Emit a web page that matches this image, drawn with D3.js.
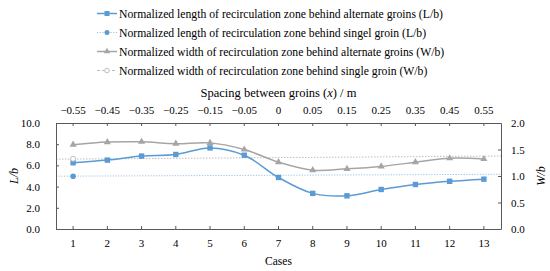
<!DOCTYPE html>
<html><head><meta charset="utf-8">
<script src="https://cdn.jsdelivr.net/npm/d3@7"></script>
<style>body{margin:0;background:#fff}svg{display:block}text{font-family:"Liberation Serif","Times New Roman",serif;fill:#000}</style>
</head><body><svg id="c" width="550" height="271"></svg>
<script>
const cases = ["1","2","3","4","5","6","7","8","9","10","11","12","13"];
const spacing = ["\u22120.55","\u22120.45","\u22120.35","\u22120.25","\u22120.15","\u22120.05","0","0.05","0.15","0.25","0.35","0.45","0.55"];
const lenAlternate = [6.25,6.5,6.88,7.03,7.65,6.96,4.86,3.36,3.13,3.73,4.2,4.5,4.7];
const widAlternate = [1.59,1.64,1.645,1.61,1.625,1.5,1.26,1.11,1.135,1.18,1.26,1.335,1.32];
const lenSingle = 4.97;           // marker at case 1
const lenSingleRef = [4.98,5.16]; // reference line, left edge -> right edge
const widSingle = 1.325;
const widSingleRef = [1.318,1.376];
const leftTicks = [0,2,4,6,8,10];
const rightTicks = [0,0.5,1,1.5,2];
const legendLabels = [
 "Normalized length of recirculation zone behind alternate groins (L/b)",
 "Normalized length of recirculation zone behind singel groin (L/b)",
 "Normalized width of recirculation zone behind alternate groins (W/b)",
 "Normalized width of recirculation zone behind single groin (W/b)"];

const FF = '"Liberation Serif","Times New Roman",serif';
const svg = d3.select("#c");
const m = {l:56, r:501, t:123, b:229};
const x = d3.scaleBand().domain(cases).range([m.l, m.r]);
const xc = d => x(d) + x.bandwidth()/2;
const yL = d3.scaleLinear().domain([0,10]).range([m.b, m.t]);
const yR = d3.scaleLinear().domain([0,2]).range([m.b, m.t]);
const blue = "#5B9BD5", gray = "#A5A5A5", lblue = "#9DC3E6", axc = "#595959";

// reference lines (single groin)
svg.append("line").attr("x1",m.l).attr("x2",m.r).attr("y1",yL(lenSingleRef[0])).attr("y2",yL(lenSingleRef[1]))
  .attr("stroke",lblue).attr("stroke-width",1).attr("stroke-dasharray","1.2,1.5");
svg.append("line").attr("x1",m.l).attr("x2",m.r).attr("y1",yR(widSingleRef[0])).attr("y2",yR(widSingleRef[1]))
  .attr("stroke","#BFBFBF").attr("stroke-width",1).attr("stroke-dasharray","1.5,1.5");

const curve = d3.curveCatmullRom.alpha(0.5);
// width alternate
svg.append("path").datum(widAlternate).attr("fill","none").attr("stroke",gray).attr("stroke-width",1.5)
  .attr("d", d3.line().x((d,i)=>xc(cases[i])).y(d=>yR(d)).curve(curve));
const tri = d3.symbol().type(d3.symbolTriangle).size(22);
svg.append("g").selectAll("path").data(widAlternate).join("path")
  .attr("transform",(d,i)=>`translate(${xc(cases[i])},${yR(d)})`).attr("d",tri()).attr("fill",gray);
// length alternate
svg.append("path").datum(lenAlternate).attr("fill","none").attr("stroke",blue).attr("stroke-width",1.5)
  .attr("d", d3.line().x((d,i)=>xc(cases[i])).y(d=>yL(d)).curve(curve));
svg.append("g").selectAll("rect").data(lenAlternate).join("rect")
  .attr("x",(d,i)=>xc(cases[i])-2.7).attr("y",d=>yL(d)-2.7).attr("width",5.4).attr("height",5.4).attr("fill",blue);
// single markers
svg.append("circle").attr("cx",xc(cases[0])).attr("cy",yL(lenSingle)).attr("r",2.8).attr("fill",blue);
svg.append("circle").attr("cx",xc(cases[0])).attr("cy",yR(widSingle)).attr("r",2.5).attr("fill","#fff").attr("stroke","#BFBFBF").attr("stroke-width",1);

// axes
const fs = "11px";
const gB = svg.append("g").attr("transform",`translate(0,${m.b})`).call(d3.axisBottom(x).tickSizeInner(-3).tickSizeOuter(0).tickPadding(10));
const gT = svg.append("g").attr("transform",`translate(0,${m.t})`).call(d3.axisTop(x).tickFormat((d,i)=>spacing[i]).tickSizeInner(-3).tickSizeOuter(0).tickPadding(9));
const gL = svg.append("g").attr("transform",`translate(${m.l},0)`).call(d3.axisLeft(yL).tickValues(leftTicks).tickFormat(d3.format(".1f")).tickSizeInner(-3).tickSizeOuter(0).tickPadding(16));
const gR = svg.append("g").attr("transform",`translate(${m.r},0)`).call(d3.axisRight(yR).tickValues(rightTicks).tickFormat(d3.format(".1f")).tickSizeInner(-3).tickSizeOuter(0).tickPadding(10));
[gB,gT,gL,gR].forEach(g=>{
  g.attr("font-family",null);
  g.selectAll("path.domain").attr("stroke",axc);
  g.selectAll(".tick line").attr("stroke",axc);
  g.selectAll("text").attr("font-size",fs).style("font-family",FF).attr("fill","#000");
});

// titles
svg.append("text").attr("x",(m.l+m.r)/2).attr("y",265).attr("text-anchor","middle").attr("font-size","11.5px").style("font-family",FF).text("Cases");
const tt = svg.append("text").attr("x",(m.l+m.r)/2).attr("y",97).attr("text-anchor","middle").attr("font-size","12.5px").style("font-family",FF);
tt.append("tspan").text("Spacing between groins (");
tt.append("tspan").attr("font-style","italic").text("x");
tt.append("tspan").text(") / m");
svg.append("text").attr("transform","translate(18,176) rotate(-90)").attr("text-anchor","middle").attr("font-size","12px").attr("font-style","italic").style("font-family",FF).text("L/b");
svg.append("text").attr("transform","translate(545,176) rotate(-90)").attr("text-anchor","middle").attr("font-size","12px").attr("font-style","italic").style("font-family",FF).text("W/b");

// legend
const lg = svg.append("g");
const ly = [13.5,32.5,51.5,70.5];
const styles = [
 {c:blue, dash:null, w:1.5, mk:"sq"},
 {c:lblue, dash:"1.2,1.5", w:1, mk:"dot"},
 {c:gray, dash:null, w:1.5, mk:"tri"},
 {c:"#BFBFBF", dash:"3,2", w:1, mk:"ring"}];
legendLabels.forEach((t,i)=>{
  const s = styles[i], y = ly[i];
  lg.append("line").attr("x1",97).attr("x2",117).attr("y1",y).attr("y2",y).attr("stroke",s.c).attr("stroke-width",s.w).attr("stroke-dasharray",s.dash);
  if(s.mk==="sq") lg.append("rect").attr("x",104.5).attr("y",y-2.5).attr("width",5).attr("height",5).attr("fill",s.c);
  if(s.mk==="dot") lg.append("circle").attr("cx",107).attr("cy",y).attr("r",2.5).attr("fill",blue);
  if(s.mk==="tri") lg.append("path").attr("transform",`translate(107,${y})`).attr("d",d3.symbol().type(d3.symbolTriangle).size(18)()).attr("fill",s.c);
  if(s.mk==="ring") lg.append("circle").attr("cx",107).attr("cy",y).attr("r",2.3).attr("fill","#fff").attr("stroke",s.c);
  lg.append("text").attr("x",119).attr("y",y+4).attr("font-size","11.7px").style("font-family",FF).text(t);
});
</script></body></html>
